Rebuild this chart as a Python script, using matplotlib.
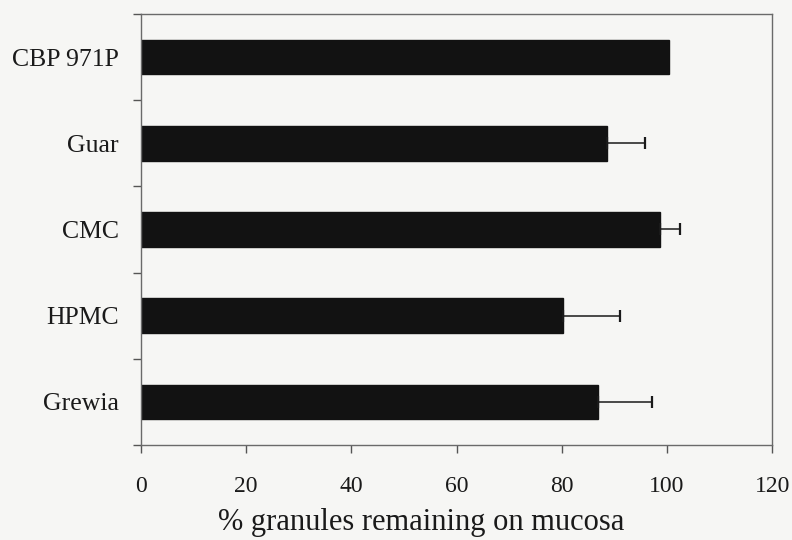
import matplotlib
matplotlib.use("Agg")
import matplotlib.pyplot as plt
import numpy as np

# Mucoadhesion data: percentage of granules still on the mucosa
categories = ["CBP 971P", "Guar", "CMC", "HPMC", "Grewia"]
remaining = [100.3, 88.5, 98.6, 80.2, 86.9]
errors = [0.0, 7.4, 3.8, 10.9, 10.2]
xticks = [0, 20, 40, 60, 80, 100, 120]

plt.rcParams["font.family"] = ["Liberation Serif", "DejaVu Serif"]

fig = plt.figure(figsize=(7.92, 5.40), dpi=100, facecolor="#f6f6f4")
ax = fig.add_axes([0.178, 0.176, 0.797, 0.798], facecolor="#f6f6f4")

y = np.arange(len(categories))[::-1]
ax.barh(y, remaining, height=0.4, color="#121212", edgecolor="#121212", zorder=2)
err_mask = [e > 0 for e in errors]
ax.errorbar(np.array(remaining)[err_mask], y[err_mask],
            xerr=[np.zeros(sum(err_mask)), np.array(errors)[err_mask]],
            fmt="none", ecolor="#1a1a1a", elinewidth=1.1, capsize=4.5,
            capthick=1.6, zorder=3)

ax.set_xlim(0, 120)
ax.set_ylim(-0.5, len(categories) - 0.5)
ax.set_xticks(xticks)
ax.set_xticklabels([str(t) for t in xticks])
ax.tick_params(axis="x", direction="out", length=6, width=1, color="#555555",
               labelsize=17, pad=16, labelcolor="#1a1a1a")

# category labels at bar centres, tick marks between categories
ax.set_yticks(y)
ax.set_yticklabels(categories)
ax.tick_params(axis="y", which="major", length=0, pad=16, labelsize=18.5,
               labelcolor="#1a1a1a")
ax.set_yticks(np.arange(-0.5, len(categories) + 0.5, 1.0), minor=True)
ax.tick_params(axis="y", which="minor", direction="out", length=6, width=1,
               color="#555555")

for s in ax.spines.values():
    s.set_color("#6a6a6a")
    s.set_linewidth(1.0)

ax.set_xlabel("% granules remaining on mucosa", fontsize=22, color="#1a1a1a",
              va="baseline")
ax.xaxis.set_label_coords(0.444, -0.198)

fig.savefig("out.png", dpi=100, facecolor=fig.get_facecolor())
